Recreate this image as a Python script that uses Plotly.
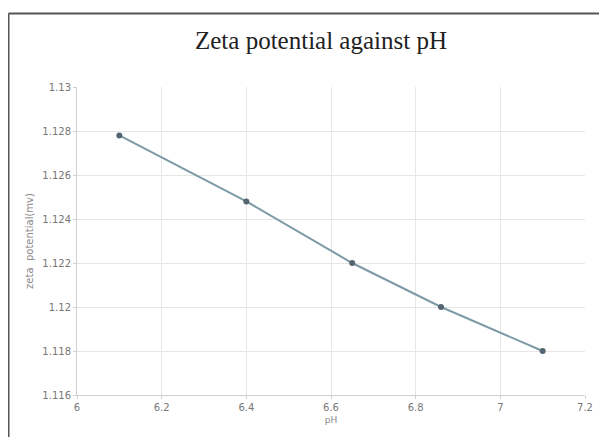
import plotly.graph_objects as go

ph = [6.1, 6.4, 6.65, 6.86, 7.1]
zeta = [1.1278, 1.1248, 1.1220, 1.1200, 1.1180]
x_ticks = [6, 6.2, 6.4, 6.6, 6.8, 7, 7.2]
x_tick_text = ["6", "6.2", "6.4", "6.6", "6.8", "7", "7.2"]
y_ticks = [1.116, 1.118, 1.12, 1.122, 1.124, 1.126, 1.128, 1.13]
y_tick_text = ["1.116", "1.118", "1.12", "1.122", "1.124", "1.126", "1.128", "1.13"]

fig = go.Figure()
fig.add_trace(go.Scatter(
    x=ph, y=zeta, mode="lines+markers",
    line=dict(color="#7d9ba6", width=2),
    marker=dict(color="#55656f", size=6),
    showlegend=False,
))

# page body has an 8px margin; compensate so the figure lands where the reference is
OFF = 8
W, H = 607, 437
L, T = 77 - OFF, 87 - OFF
R = W - (585 - OFF)
B = H - (395 - OFF)
pw, ph_ = W - L - R, H - T - B

fig.update_layout(
    width=W, height=H,
    margin=dict(l=L, r=R, t=T, b=B),
    paper_bgcolor="white", plot_bgcolor="white",
    title=dict(text="Zeta potential against pH", x=(321 - OFF) / W, xanchor="center",
               y=1 - (40 - OFF) / H, yanchor="middle",
               font=dict(family="Liberation Serif, Times New Roman, serif", size=25, color="#222")),
    xaxis=dict(range=[6, 7.2], tickvals=x_ticks, ticktext=x_tick_text,
               showgrid=True, gridcolor="#e6e6e6", gridwidth=1,
               showline=True, linecolor="#d0d0d0", ticks="outside", ticklen=3, tickcolor="#d0d0d0",
               tickfont=dict(family="DejaVu Sans", size=10, color="#777"),
               title=dict(text="pH", font=dict(family="DejaVu Sans", size=9, color="#888"), standoff=4),
               zeroline=False),
    yaxis=dict(range=[1.116, 1.13], tickvals=y_ticks, ticktext=y_tick_text,
               showgrid=True, gridcolor="#e6e6e6", gridwidth=1,
               showline=True, linecolor="#d0d0d0", ticks="outside", ticklen=3, tickcolor="#d0d0d0",
               tickfont=dict(family="DejaVu Sans", size=10, color="#777"),
               title=dict(text="zeta  potential(mv)", font=dict(family="DejaVu Sans", size=10, color="#888"), standoff=6),
               zeroline=False),
)

# frame lines (left and top) of the original screenshot
xl = (8.5 - OFF - L) / pw
yt = 1 + (T - (13.5 - OFF)) / ph_
fig.add_shape(type="line", xref="paper", yref="paper", x0=xl, x1=xl, y0=-0.3, y1=yt,
              line=dict(color="#555", width=2))
fig.add_shape(type="line", xref="paper", yref="paper", x0=xl, x1=1.2, y0=yt, y1=yt,
              line=dict(color="#555", width=2))

fig.write_html("out.html")
